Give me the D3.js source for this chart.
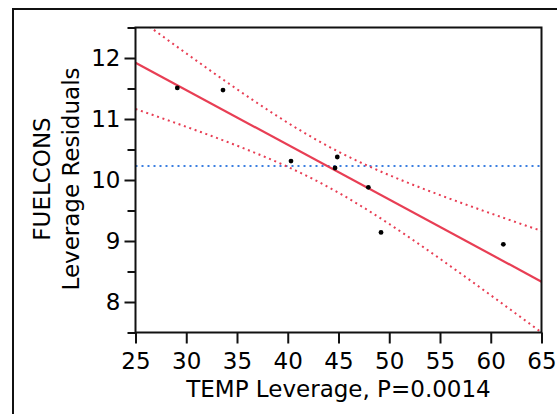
<!DOCTYPE html>
<html>
<head>
<meta charset="utf-8">
<script src="https://cdn.jsdelivr.net/npm/d3@7"></script>
<style>
  body { margin: 0; background: white; }
  text { font-family: "DejaVu Sans", sans-serif; fill: black; }
</style>
</head>
<body>
<div id="chart"></div>
<script>
// Leverage plot data
var tempLeverage = [29.12, 33.62, 40.32, 44.66, 44.88, 47.94, 49.19, 61.24];
var fuelResiduals = [11.51, 11.475, 10.31, 10.197, 10.377, 9.88, 9.14, 8.946];
var xTicks = [25, 30, 35, 40, 45, 50, 55, 60, 65];
var yTicks = [8, 9, 10, 11, 12];
var yMinorTicks = [7.5, 8.5, 9.5, 10.5, 11.5, 12.5];
var xTitle = "TEMP Leverage, P=0.0014";
var yTitle = ["FUELCONS", "Leverage Residuals"];
var errorDF = 5;        // error degrees of freedom of the full model
var tCrit = 2.5706;     // t(0.975, 5)

var width = 557, height = 414;
var plot = { left: 135.5, right: 541.5, top: 27.5, bottom: 332.5 };
var redColor = "#e83e54";
var blueColor = "#3b7fe0";

var svg = d3.select("#chart").append("svg")
  .attr("width", width)
  .attr("height", height);

// outer frame (runs off the picture on the right and bottom)
svg.append("rect")
  .attr("x", 13).attr("y", 9)
  .attr("width", 600).attr("height", 500)
  .attr("fill", "none")
  .attr("stroke", "#111")
  .attr("stroke-width", 2);

var x = d3.scaleLinear().domain([25, 65]).range([plot.left, plot.right]);
var y = d3.scaleLinear().domain([7.5, 12.5]).range([plot.bottom, plot.top]);

// Fit statistics
var n = tempLeverage.length;
var meanX = d3.mean(tempLeverage);
var meanY = d3.mean(fuelResiduals);
var sxx = d3.sum(tempLeverage, d => (d - meanX) * (d - meanX));
var sxy = d3.sum(tempLeverage, (d, i) => (d - meanX) * (fuelResiduals[i] - meanY));
var slope = sxy / sxx;
var intercept = meanY - slope * meanX;
var sse = d3.sum(tempLeverage, (d, i) => Math.pow(fuelResiduals[i] - (intercept + slope * d), 2));
var rmse = Math.sqrt(sse / errorDF);
function fit(v) { return intercept + slope * v; }
function halfWidth(v) { return tCrit * rmse * Math.sqrt(1 / n + (v - meanX) * (v - meanX) / sxx); }

svg.append("clipPath").attr("id", "plotClip")
  .append("rect")
  .attr("x", plot.left).attr("y", plot.top)
  .attr("width", plot.right - plot.left).attr("height", plot.bottom - plot.top);

var g = svg.append("g").attr("clip-path", "url(#plotClip)");

// mean line
g.append("line")
  .attr("x1", x(25)).attr("x2", x(65))
  .attr("y1", y(meanY)).attr("y2", y(meanY))
  .attr("stroke", blueColor)
  .attr("stroke-width", 2)
  .attr("stroke-dasharray", "2,4");

// confidence curves
var curveXs = d3.range(25, 65.01, 0.5);
var band = d3.line().x(d => x(d[0])).y(d => y(d[1]));
g.append("path")
  .datum(curveXs.map(v => [v, fit(v) + halfWidth(v)]))
  .attr("d", band)
  .attr("fill", "none")
  .attr("stroke", redColor)
  .attr("stroke-width", 2)
  .attr("stroke-dasharray", "2,3.7");
g.append("path")
  .datum(curveXs.map(v => [v, fit(v) - halfWidth(v)]))
  .attr("d", band)
  .attr("fill", "none")
  .attr("stroke", redColor)
  .attr("stroke-width", 2)
  .attr("stroke-dasharray", "2,3.7");

// fit line
g.append("line")
  .attr("x1", x(25)).attr("x2", x(65))
  .attr("y1", y(fit(25))).attr("y2", y(fit(65)))
  .attr("stroke", redColor)
  .attr("stroke-width", 2.2);

// points
g.selectAll("circle")
  .data(tempLeverage)
  .enter().append("circle")
  .attr("cx", d => x(d))
  .attr("cy", (d, i) => y(fuelResiduals[i]))
  .attr("r", 2.4)
  .attr("fill", "black");

// axes
var xAxis = svg.append("g")
  .attr("transform", `translate(0, ${plot.bottom})`)
  .call(d3.axisBottom(x).tickValues(xTicks).tickSize(11).tickPadding(9).tickFormat(d3.format("d")));
var yAxis = svg.append("g")
  .attr("transform", `translate(${plot.left}, 0)`)
  .call(d3.axisLeft(y).tickValues(yTicks).tickSize(11).tickPadding(4).tickFormat(d3.format("d")));
var yMinor = svg.append("g")
  .attr("transform", `translate(${plot.left}, 0)`)
  .call(d3.axisLeft(y).tickValues(yMinorTicks).tickSize(8).tickFormat(""));

[xAxis, yAxis, yMinor].forEach(function (a) {
  a.select(".domain").remove();
  a.selectAll("line").attr("stroke", "#111").attr("stroke-width", 2);
  a.selectAll("text").attr("font-size", 23).attr("font-family", "DejaVu Sans").attr("fill", "black");
});

// plot frame
svg.append("rect")
  .attr("x", plot.left).attr("y", plot.top)
  .attr("width", plot.right - plot.left).attr("height", plot.bottom - plot.top)
  .attr("fill", "none")
  .attr("stroke", "#111")
  .attr("stroke-width", 2);

// titles
svg.append("text")
  .attr("x", (plot.left + plot.right) / 2)
  .attr("y", 396.5)
  .attr("text-anchor", "middle")
  .attr("font-size", 23)
  .text(xTitle);

svg.append("text")
  .attr("transform", "translate(50, 179) rotate(-90)")
  .attr("text-anchor", "middle")
  .attr("font-size", 23)
  .text(yTitle[0]);
svg.append("text")
  .attr("transform", "translate(78.5, 179) rotate(-90)")
  .attr("text-anchor", "middle")
  .attr("font-size", 23)
  .text(yTitle[1]);
</script>
</body>
</html>
